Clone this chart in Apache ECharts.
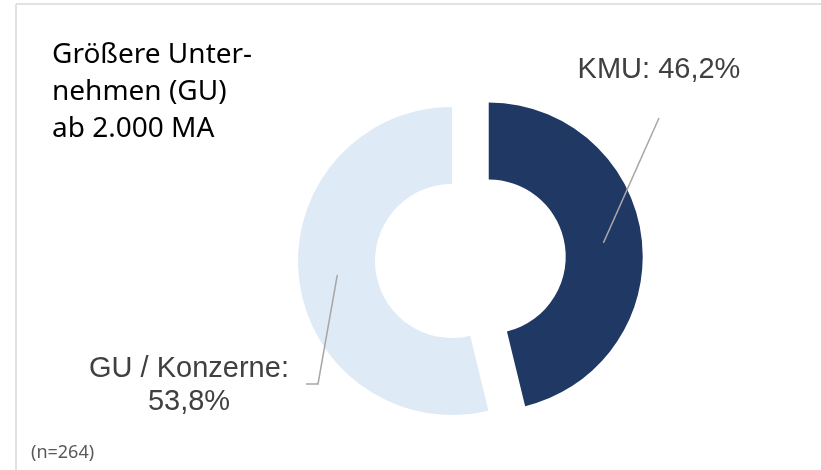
<!DOCTYPE html>
<html>
<head>
<meta charset="utf-8">
<script src="https://cdn.jsdelivr.net/npm/echarts@6/dist/echarts.min.js"></script>
<style>
  html, body { margin: 0; padding: 0; background: #fff; }
  #chart { width: 821px; height: 470px; }
</style>
</head>
<body>
<div id="chart"></div>
<script>
// data
const categories = ['KMU', 'GU / Konzerne']
const shares = [46.2, 53.8]
const colors = ['#1F3864', '#DEEAF6']
const explodedIndex = 0
const titleLines = ['Größere Unter-', 'nehmen (GU)', 'ab 2.000 MA']
const sampleNote = '(n=264)'

// layout
const center = [452, 261]
const rInner = 77
const rOuter = 154
const explodeOffset = 37
const labelPos = [
  { x: 659, y: 70 },
  { x: 189, y: 385 },
]

const total = shares.reduce((a, b) => a + b, 0)

function midAngle(i) {
  let before = 0
  for (let k = 0; k < i; k++) before += shares[k]
  return (90 - (before + shares[i] / 2) / total * 360) * Math.PI / 180
}

// each slice gets its own centre, the exploded one pushed out along its bisector
function sliceCenter(i) {
  const off = i === explodedIndex ? explodeOffset : 0
  const a = midAngle(i)
  return [center[0] + off * Math.cos(a), center[1] - off * Math.sin(a)]
}

function ringPoint(i, r) {
  const c = sliceCenter(i)
  const a = midAngle(i)
  return [c[0] + r * Math.cos(a), c[1] - r * Math.sin(a)]
}

const fmt = v => v.toFixed(1).replace('.', ',') + '%'
const hidden = { itemStyle: { color: 'rgba(0,0,0,0)' }, label: { show: false }, labelLine: { show: false } }

const chart = echarts.init(document.getElementById('chart'), null, { renderer: 'canvas' })

const baseSeries = {
  type: 'pie',
  radius: [rInner, rOuter],
  startAngle: 90,
  clockwise: true,
  silent: true,
  avoidLabelOverlap: false,
  emphasis: { disabled: true },
  itemStyle: { borderWidth: 0 },
}

// one series per slice so the KMU slice can sit off-centre
function sliceSeries(idx) {
  return {
    ...baseSeries,
    z: 2,
    center: sliceCenter(idx),
    label: { show: false },
    labelLine: { show: false },
    data: categories.map((name, i) => (i === idx
      ? { name, value: shares[i], itemStyle: { color: colors[i] } }
      : { name, value: shares[i], ...hidden })),
  }
}

// transparent copy on top that only carries the labels and leader lines
const labelSeries = {
  ...baseSeries,
  z: 3,
  center,
  itemStyle: { color: 'rgba(0,0,0,0)', borderWidth: 0 },
  label: {
    show: true,
    position: 'outside',
    fontFamily: '"Liberation Sans", Arial, sans-serif',
    fontSize: 29,
    lineHeight: 33,
    color: '#404040',
    align: 'center',
    formatter: p => p.name + ':' + (p.dataIndex === 1 ? '\n' : ' ') + fmt(p.value),
  },
  labelLine: {
    show: true,
    length: 20,
    length2: 10,
    smooth: false,
    lineStyle: { color: '#A6A6A6', width: 1.5 },
  },
  labelLayout: p => {
    const i = p.dataIndex
    const pos = labelPos[i]
    const start = ringPoint(i, (rInner + rOuter) / 2)
    let pts
    if (i === 0) {
      pts = [start, [pos.x, pos.y + 48]]
    } else {
      pts = [start, [pos.x + 129, pos.y - 1], [pos.x + 117, pos.y - 1]]
    }
    return { x: pos.x, y: pos.y, align: 'center', verticalAlign: 'middle', labelLinePoints: pts }
  },
  data: categories.map((name, i) => ({ name, value: shares[i] })),
}

const option = {
  animation: false,
  backgroundColor: '#fff',
  graphic: [
    { type: 'line', shape: { x1: 16, y1: 4, x2: 821, y2: 4 }, style: { stroke: '#D9D9D9', lineWidth: 1.5 } },
    { type: 'line', shape: { x1: 16, y1: 4, x2: 16, y2: 470 }, style: { stroke: '#D9D9D9', lineWidth: 1.5 } },
    {
      type: 'text', left: 52, top: 37,
      style: {
        text: titleLines.join('\n'),
        font: '28px "Noto Sans"',
        lineHeight: 37,
        fill: '#000',
      },
    },
    {
      type: 'text', left: 31, top: 444,
      style: { text: sampleNote, font: '18px "Noto Sans"', fill: '#595959' },
    },
  ],
  series: [...categories.map((_, i) => sliceSeries(i)), labelSeries],
}

option && chart.setOption(option)
</script>
</body>
</html>
